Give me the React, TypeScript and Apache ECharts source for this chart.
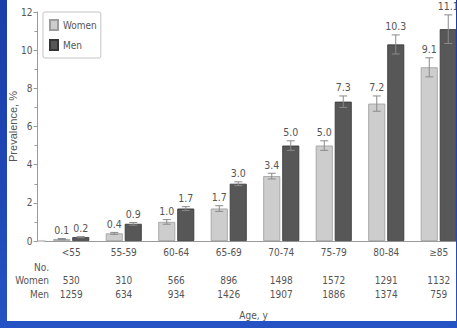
import React, { useEffect, useRef } from "react";
import * as echarts from "echarts";

const categories = ["<55", "55-59", "60-64", "65-69", "70-74", "75-79", "80-84", "≥85"];
const womenPrevalence = [0.1, 0.4, 1.0, 1.7, 3.4, 5.0, 7.2, 9.1];
const menPrevalence = [0.2, 0.9, 1.7, 3.0, 5.0, 7.3, 10.3, 11.1];
// half-width of the confidence interval, in percentage points
const womenError = [0.03, 0.05, 0.12, 0.15, 0.15, 0.25, 0.4, 0.5];
const menError = [0.03, 0.07, 0.1, 0.1, 0.25, 0.3, 0.5, 0.75];
const womenCounts = [530, 310, 566, 896, 1498, 1572, 1291, 1132];
const menCounts = [1259, 634, 934, 1426, 1907, 1886, 1374, 759];
const rowHeaders = ["No.", "Women", "Men"];

const NARROW = "'Liberation Sans Narrow', 'Arial Narrow', 'DejaVu Sans Condensed', sans-serif";
const FS = 10;
const BAR_WIDTH = 17;
const BAR_GAP_PX = 2;
const HALF_STEP = (BAR_WIDTH + BAR_GAP_PX) / 2;

function errorSeries(name: string, values: number[], errors: number[], dx: number) {
  return {
    type: "custom",
    name,
    z: 5,
    data: values.map((v, i) => [i, v, v - errors[i], v + errors[i]]),
    renderItem: (_params: any, api: any) => {
      const i = api.value(0);
      const v = api.value(1);
      const lo = api.coord([i, api.value(2)]);
      const hi = api.coord([i, api.value(3)]);
      const x = lo[0] + dx;
      const cap = 4;
      const stroke = { stroke: "#8a8a8a", lineWidth: 1 };
      return {
        type: "group",
        children: [
          { type: "line", shape: { x1: x, y1: lo[1], x2: x, y2: hi[1] }, style: stroke },
          { type: "line", shape: { x1: x - cap, y1: hi[1], x2: x + cap, y2: hi[1] }, style: stroke },
          { type: "line", shape: { x1: x - cap, y1: lo[1], x2: x + cap, y2: lo[1] }, style: stroke },
          {
            type: "text",
            style: {
              text: Number(v).toFixed(1),
              x,
              y: hi[1] - 3,
              align: "center",
              verticalAlign: "bottom",
              fontSize: 10.5,
              fontFamily: NARROW,
              fill: "#555",
            },
          },
        ],
      };
    },
  };
}

function countAxis(data: number[], offset: number) {
  return {
    type: "category",
    position: "bottom",
    offset,
    data: data.map(String),
    axisLine: { show: false },
    axisTick: { show: false },
    axisLabel: { fontSize: FS, fontFamily: NARROW, color: "#555", margin: 6 },
  };
}

export default function App() {
  const ref = useRef<HTMLDivElement>(null);

  useEffect(() => {
    if (!ref.current) return;
    const chart = echarts.init(ref.current, undefined, { renderer: "svg" });
    chart.setOption({
      animation: false,
      backgroundColor: "#ffffff",
      grid: { left: 38, right: -9, top: 12, bottom: 80, outerBoundsMode: "none", containLabel: false },
      legend: {
        data: ["Women", "Men"],
        orient: "vertical",
        left: 36,
        top: 12,
        itemWidth: 8,
        itemHeight: 10,
        itemGap: 8,
        itemTextGap: 3,
        padding: [7, 4, 7, 6],
        borderColor: "#c4c4c4",
        borderWidth: 1,
        borderRadius: 2,
        icon: "rect",
        textStyle: { fontSize: FS, fontFamily: NARROW, color: "#555" },
      },
      xAxis: [
        {
          type: "category",
          data: categories,
          axisLine: { lineStyle: { color: "#9a9a9a" } },
          axisTick: { show: false },
          axisLabel: { fontSize: FS, fontFamily: NARROW, color: "#555", margin: 6 },
        },
        countAxis(womenCounts, 28),
        countAxis(menCounts, 42),
      ],
      yAxis: {
        type: "value",
        min: 0,
        max: 12,
        interval: 2,
        offset: 7.5,
        name: "Prevalence, %",
        nameLocation: "middle",
        nameGap: 19,
        nameMoveOverlap: false,
        nameTextStyle: { fontSize: 11, fontFamily: "'Liberation Sans', Arial, sans-serif", color: "#555" },
        axisLine: { show: true, lineStyle: { color: "#9a9a9a" } },
        axisTick: { show: true, length: 4, lineStyle: { color: "#9a9a9a" } },
        minorTick: { show: true, splitNumber: 2, length: 3, lineStyle: { color: "#9a9a9a" } },
        splitLine: { show: false },
        axisLabel: { fontSize: FS, fontFamily: NARROW, color: "#555", margin: 5 },
      },
      series: [
        {
          name: "Women",
          type: "bar",
          data: womenPrevalence,
          barWidth: BAR_WIDTH,
          barGap: `${(BAR_GAP_PX / BAR_WIDTH) * 100}%`,
          itemStyle: { color: "#cdcdcd", borderColor: "#9c9c9c", borderWidth: 0.8 },
        },
        {
          name: "Men",
          type: "bar",
          data: menPrevalence,
          barWidth: BAR_WIDTH,
          itemStyle: { color: "#575757", borderColor: "#353535", borderWidth: 0.8 },
        },
        errorSeries("Women CI", womenPrevalence, womenError, -HALF_STEP),
        errorSeries("Men CI", menPrevalence, menError, HALF_STEP),
      ],
      graphic: [
        // x-axis baseline continued back to the y axis
        {
          type: "line",
          shape: { x1: 30.5, y1: 241, x2: 38.5, y2: 241 },
          style: { stroke: "#9a9a9a", lineWidth: 1 },
        },
        ...rowHeaders.map((t, k) => ({
          type: "text",
          style: {
            text: t,
            x: 42,
            y: [267, 280.5, 294.5][k],
            align: "right",
            verticalAlign: "middle",
            fontSize: FS,
            fontFamily: NARROW,
            fill: "#555",
          },
        })),
        {
          type: "text",
          style: {
            text: "Age, y",
            x: 246.5,
            y: 315,
            align: "center",
            verticalAlign: "middle",
            fontSize: FS,
            fontFamily: NARROW,
            fill: "#555",
          },
        },
      ],
    });
    return () => chart.dispose();
  }, []);

  return (
    <div
      style={{
        position: "fixed",
        left: 0,
        top: 0,
        width: 457,
        height: 328,
        background: "linear-gradient(180deg, #1a3ea9 0%, #1f47b6 60%, #2553c4 100%)",
        overflow: "hidden",
      }}
    >
      <div ref={ref} style={{ position: "absolute", left: 7, top: 0, width: 449, height: 321 }} />
    </div>
  );
}
